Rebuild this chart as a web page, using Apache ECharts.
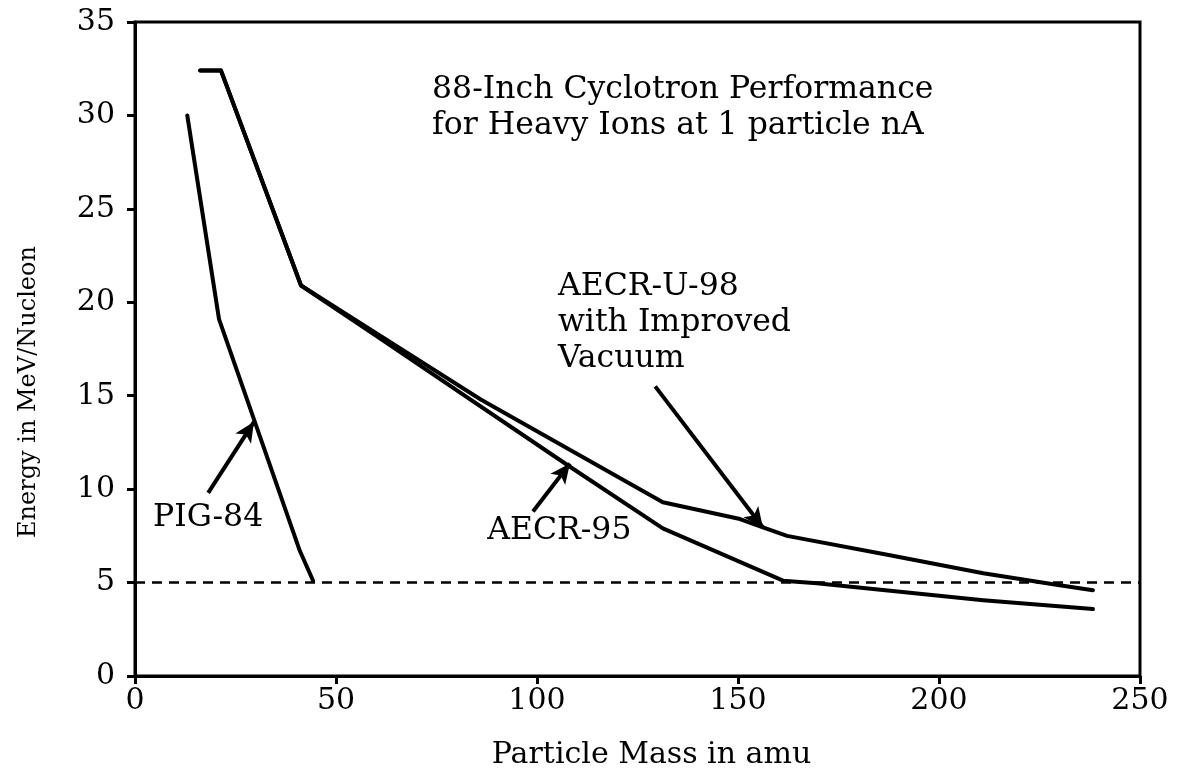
<!DOCTYPE html>
<html>
<head>
<meta charset="utf-8">
<style>
html, body { margin: 0; padding: 0; background: #fff; }
#chart { width: 1180px; height: 775px; }
</style>
</head>
<body>
<div id="chart"></div>
<script src="https://cdn.jsdelivr.net/npm/echarts@6/dist/echarts.min.js"></script>
<script>
// curves: [mass (amu), energy (MeV/nucleon)]
const pig84 = [[13, 30], [20.9, 19.1], [41, 6.7], [44.3, 5.1]];
const aecr95 = [[16.2, 32.4], [21.4, 32.4], [41.3, 20.9], [60, 18.2], [108.2, 11.2], [131.3, 7.9],
  [161.2, 5.1], [169.6, 4.96], [211, 4.06], [238.3, 3.58]];
const aecrU98 = [[16.2, 32.4], [21.4, 32.4], [41.3, 20.9], [60, 18.35], [86, 14.8], [131.3, 9.3],
  [150.5, 8.4], [156.2, 7.95], [162.2, 7.5], [187.8, 6.46], [211, 5.5], [230, 4.86], [238.3, 4.59]];
const cutoff = 5;

// annotation arrows: [tail, head]
const arrows = [
  [[18.2, 9.8], [29.6, 13.6]],
  [[99, 8.8], [108.2, 11.37]],
  [[129.4, 15.5], [156.2, 7.95]]
];
// text notes: [x, y, text] (left edge, vertical centre)
const notes = [
  [73.9, 30.4, '88-Inch Cyclotron Performance\nfor Heavy Ions at 1 particle nA'],
  [105.2, 18.9, 'AECR-U-98\nwith Improved\nVacuum'],
  [4.5, 8.45, 'PIG-84'],
  [87.6, 7.75, 'AECR-95']
];

const serif = 'DejaVu Serif';
const chart = echarts.init(document.getElementById('chart'));

const curve = (name, data) => ({
  name: name,
  type: 'line',
  data: data,
  symbol: 'none',
  lineStyle: { color: '#000', width: 4, join: 'round', cap: 'round' },
  z: 3
});

chart.setOption({
  animation: false,
  backgroundColor: '#fff',
  grid: {
    left: 135, right: 40, top: 22, bottom: 97,
    show: true, borderColor: '#000', borderWidth: 3
  },
  xAxis: {
    type: 'value', min: 0, max: 250, interval: 50,
    name: 'Particle Mass in amu', nameLocation: 'middle', nameGap: 64,
    // the scanned label sits a little right of the axis centre
    nameTextStyle: { fontFamily: serif, fontSize: 30, color: '#000', padding: [0, 0, 0, 28] },
    axisLine: { lineStyle: { color: '#000', width: 3 } },
    axisTick: { length: 8, lineStyle: { color: '#000', width: 3 } },
    axisLabel: { fontFamily: serif, fontSize: 30, color: '#000', margin: 10 },
    splitLine: { show: false }
  },
  yAxis: {
    type: 'value', min: 0, max: 35, interval: 5,
    name: 'Energy in MeV/Nucleon', nameLocation: 'middle', nameGap: 94, nameRotate: 90,
    // and this one sits below the centre
    nameTextStyle: { fontFamily: serif, fontSize: 24, color: '#000', padding: [0, 86, 0, 0] },
    axisLine: { lineStyle: { color: '#000', width: 3 } },
    axisTick: { length: 8, lineStyle: { color: '#000', width: 3 } },
    axisLabel: { fontFamily: serif, fontSize: 30, color: '#000', margin: 20 },
    splitLine: { show: false }
  },
  series: [
    curve('PIG-84', pig84),
    curve('AECR-95', aecr95),
    curve('AECR-U-98', aecrU98),
    {
      name: 'arrows',
      type: 'line',
      data: [],
      markLine: {
        silent: true,
        symbol: ['none', 'arrow'],
        symbolSize: [14, 20],
        label: { show: false },
        lineStyle: { color: '#000', width: 4, type: 'solid' },
        data: arrows.map(a => [{ coord: a[0] }, { coord: a[1] }])
      }
    },
    {
      name: 'cutoff',
      type: 'line',
      data: [],
      markLine: {
        silent: true,
        symbol: 'none',
        label: { show: false },
        lineStyle: { color: '#000', width: 2.5, type: [10, 7] },
        data: [{ yAxis: cutoff }]
      }
    },
    {
      name: 'notes',
      type: 'scatter',
      symbolSize: 0,
      itemStyle: { opacity: 1, color: '#000' },
      data: notes.map(n => ({ value: [n[0], n[1]], text: n[2] })),
      label: {
        show: true,
        position: 'inside',
        align: 'left',
        verticalAlign: 'middle',
        formatter: p => p.data.text,
        fontFamily: serif,
        fontSize: 31.5,
        lineHeight: 36,
        color: '#000',
        opacity: 1
      },
      z: 5
    }
  ]
});
</script>
</body>
</html>
